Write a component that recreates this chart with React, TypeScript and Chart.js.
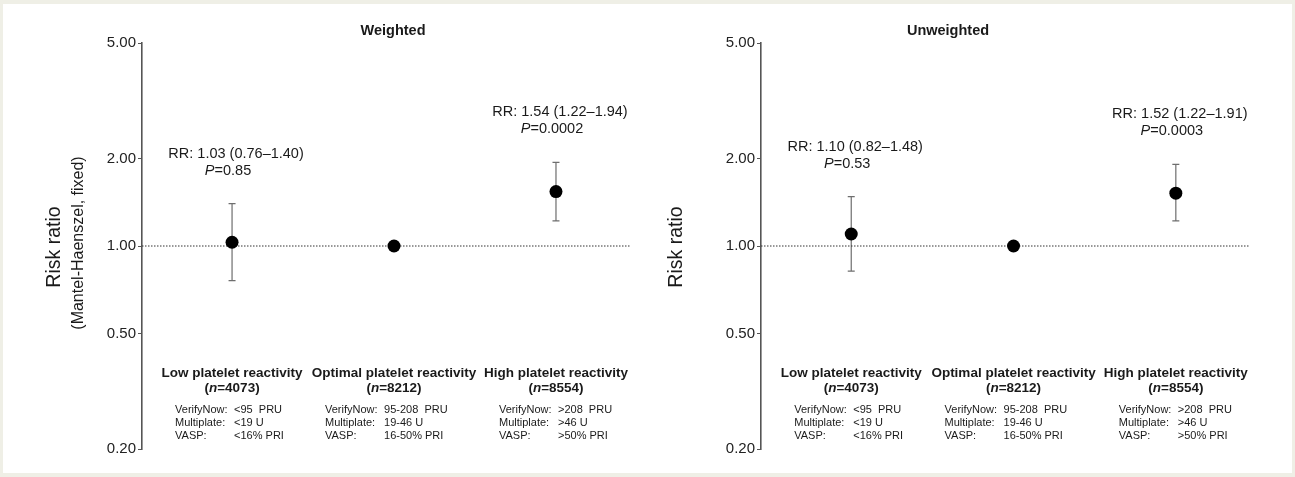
import React, { useEffect, useRef } from 'react';
import { Chart, registerables } from 'chart.js';

Chart.register(...registerables);

// ---------------- data ----------------
const categories = ['Low platelet reactivity', 'Optimal platelet reactivity', 'High platelet reactivity'];
const nValues = ['4073', '8212', '8554'];
const verifyNowValues = ['<95  PRU', '95-208  PRU', '>208  PRU'];
const multiplateValues = ['<19 U', '19-46 U', '>46 U'];
const vaspValues = ['<16% PRI', '16-50% PRI', '>50% PRI'];

const weightedRR = [1.03, 1.0, 1.54];
const weightedLo = [0.76, null, 1.22];
const weightedHi = [1.4, null, 1.94];
const weightedRRText = ['RR: 1.03 (0.76–1.40)', null, 'RR: 1.54 (1.22–1.94)'];
const weightedP = ['0.85', null, '0.0002'];

const unweightedRR = [1.1, 1.0, 1.52];
const unweightedLo = [0.82, null, 1.22];
const unweightedHi = [1.48, null, 1.91];
const unweightedRRText = ['RR: 1.10 (0.82–1.48)', null, 'RR: 1.52 (1.22–1.91)'];
const unweightedP = ['0.53', null, '0.0003'];

const yTicks = [0.2, 0.5, 1, 2, 5];
const referenceRR = 1;

// ---------------- styling ----------------
const FONT = '"Liberation Sans", Arial, Helvetica, sans-serif';
const TEXT = '#1a1a1a';
const X_MIN = 0.444;
const X_MAX = 3.457;
const BLOCK_OFFSETS = [-57, -69, -57]; // left edge of the assay text blocks relative to category centre

type Panel = {
  title: string;
  rr: number[];
  lo: (number | null)[];
  hi: (number | null)[];
  rrText: (string | null)[];
  pText: (string | null)[];
  yTitle: string;
  ySubtitle?: string;
  axisWidth: number;
  padRight: number;
  titleDx: number;
  yTitleDx: number;
};

function drawMixed(ctx: CanvasRenderingContext2D, parts: { text: string; font: string }[], cx: number, cy: number) {
  let total = 0;
  parts.forEach((p) => {
    ctx.font = p.font;
    total += ctx.measureText(p.text).width;
  });
  let x = cx - total / 2;
  ctx.textAlign = 'left';
  ctx.textBaseline = 'middle';
  parts.forEach((p) => {
    ctx.font = p.font;
    ctx.fillText(p.text, x, cy);
    x += ctx.measureText(p.text).width;
  });
}

function makeConfig(panel: Panel): any {
  const points = panel.rr.map((v, i) => ({ x: i + 1, y: v }));

  const errorBarPlugin = {
    id: 'errorBars',
    beforeDatasetsDraw(chart: any) {
      const { ctx, scales } = chart;
      const xs = scales.x;
      const ys = scales.y;
      ctx.save();
      ctx.strokeStyle = '#6e6e6e';
      ctx.lineWidth = 1.2;
      panel.rr.forEach((_, i) => {
        const lo = panel.lo[i];
        const hi = panel.hi[i];
        if (lo == null || hi == null) return;
        const px = xs.getPixelForValue(i + 1);
        const pLo = ys.getPixelForValue(lo);
        const pHi = ys.getPixelForValue(hi);
        ctx.beginPath();
        ctx.moveTo(px, pLo);
        ctx.lineTo(px, pHi);
        ctx.moveTo(px - 3.5, pLo);
        ctx.lineTo(px + 3.5, pLo);
        ctx.moveTo(px - 3.5, pHi);
        ctx.lineTo(px + 3.5, pHi);
        ctx.stroke();
      });
      ctx.restore();
    },
  };

  const textPlugin = {
    id: 'panelText',
    afterDraw(chart: any) {
      const { ctx, scales, chartArea } = chart;
      const xs = scales.x;
      const ys = scales.y;
      ctx.save();
      ctx.fillStyle = TEXT;

      // panel title
      ctx.font = `bold 14.5px ${FONT}`;
      ctx.textAlign = 'center';
      ctx.textBaseline = 'middle';
      ctx.fillText(panel.title, chartArea.left + panel.titleDx, chartArea.top - 12);

      // y-axis titles
      ctx.save();
      ctx.translate(chartArea.left - panel.yTitleDx, (chartArea.top + chartArea.bottom) / 2 + 1);
      ctx.rotate(-Math.PI / 2);
      ctx.font = `19.5px ${FONT}`;
      ctx.textAlign = 'center';
      ctx.textBaseline = 'middle';
      ctx.fillText(panel.yTitle, 0, 0);
      if (panel.ySubtitle) {
        ctx.font = `16px ${FONT}`;
        ctx.fillText(panel.ySubtitle, 4, 24);
      }
      ctx.restore();

      // RR annotations
      panel.rr.forEach((_, i) => {
        const t = panel.rrText[i];
        const hi = panel.hi[i];
        if (!t || hi == null) return;
        const px = xs.getPixelForValue(i + 1);
        const pHi = ys.getPixelForValue(hi);
        ctx.font = `14.5px ${FONT}`;
        ctx.textAlign = 'center';
        ctx.textBaseline = 'middle';
        ctx.fillText(t, px + 4, pHi - 50);
        const p = panel.pText[i];
        if (p) {
          drawMixed(
            ctx,
            [
              { text: 'P', font: `italic 14.5px ${FONT}` },
              { text: '=' + p, font: `14.5px ${FONT}` },
            ],
            px - 4,
            pHi - 33
          );
        }
      });

      // category labels
      categories.forEach((c, i) => {
        const px = xs.getPixelForValue(i + 1);
        const base = chartArea.bottom;
        ctx.fillStyle = TEXT;
        ctx.font = `bold 13.5px ${FONT}`;
        ctx.textAlign = 'center';
        ctx.textBaseline = 'middle';
        ctx.fillText(c, px, base - 76);
        drawMixed(
          ctx,
          [
            { text: '(', font: `bold 13.5px ${FONT}` },
            { text: 'n', font: `italic bold 13.5px ${FONT}` },
            { text: '=' + nValues[i] + ')', font: `bold 13.5px ${FONT}` },
          ],
          px,
          base - 61
        );
        const left = px + BLOCK_OFFSETS[i];
        const valueLeft = left + 59;
        ctx.font = `11px ${FONT}`;
        ctx.textAlign = 'left';
        ctx.textBaseline = 'middle';
        const rows: [string, string][] = [
          ['VerifyNow:', verifyNowValues[i]],
          ['Multiplate:', multiplateValues[i]],
          ['VASP:', vaspValues[i]],
        ];
        rows.forEach((r, k) => {
          const y = base - 39 + k * 13;
          ctx.fillText(r[0], left, y);
          ctx.fillText(r[1], valueLeft, y);
        });
      });
      ctx.restore();
    },
  };

  return {
    type: 'scatter',
    data: {
      datasets: [
        {
          label: 'RR',
          data: points,
          pointRadius: 6.5,
          pointHoverRadius: 6.5,
          backgroundColor: '#000',
          borderColor: '#000',
          borderWidth: 0,
          showLine: false,
        },
        {
          label: 'reference',
          type: 'line',
          data: [
            { x: X_MIN, y: referenceRR },
            { x: X_MAX, y: referenceRR },
          ],
          borderColor: '#333',
          borderWidth: 1,
          borderDash: [1.5, 1.5],
          pointRadius: 0,
          fill: false,
        },
      ],
    },
    options: {
      responsive: false,
      animation: false,
      devicePixelRatio: 1,
      layout: { padding: { left: 0, right: panel.padRight, top: 43, bottom: 28 } },
      plugins: { legend: { display: false }, tooltip: { enabled: false }, title: { display: false } },
      scales: {
        x: { type: 'linear', min: X_MIN, max: X_MAX, display: false },
        y: {
          type: 'logarithmic',
          min: yTicks[0],
          max: yTicks[yTicks.length - 1],
          afterBuildTicks: (scale: any) => {
            scale.ticks = yTicks.map((v) => ({ value: v }));
          },
          afterFit: (scale: any) => {
            scale.width = panel.axisWidth;
          },
          ticks: {
            autoSkip: false,
            padding: 2,
            color: '#222',
            font: { family: FONT, size: 15 },
            callback: (v: any) => Number(v).toFixed(2),
          },
          grid: {
            drawOnChartArea: false,
            drawTicks: true,
            tickLength: 4,
            tickColor: '#555',
            tickWidth: 1,
          },
          border: { display: true, color: '#555', width: 1.6 },
        },
      },
    },
    plugins: [errorBarPlugin, textPlugin],
  };
}

const weightedPanel: Panel = {
  title: 'Weighted',
  rr: weightedRR,
  lo: weightedLo,
  hi: weightedHi,
  rrText: weightedRRText,
  pText: weightedP,
  yTitle: 'Risk ratio',
  ySubtitle: '(Mantel-Haenszel, fixed)',
  axisWidth: 142,
  padRight: 17,
  titleDx: 251,
  yTitleDx: 87,
};

const unweightedPanel: Panel = {
  title: 'Unweighted',
  rr: unweightedRR,
  lo: unweightedLo,
  hi: unweightedHi,
  rrText: unweightedRRText,
  pText: unweightedP,
  yTitle: 'Risk ratio',
  axisWidth: 114,
  padRight: 45,
  titleDx: 187,
  yTitleDx: 84,
};

function ChartPanel({ panel, left, width }: { panel: Panel; left: number; width: number }) {
  const ref = useRef<HTMLCanvasElement | null>(null);
  useEffect(() => {
    if (!ref.current) return;
    const chart = new Chart(ref.current, makeConfig(panel));
    return () => chart.destroy();
  }, [panel]);
  return (
    <canvas
      ref={ref}
      width={width}
      height={477}
      style={{ position: 'absolute', left, top: 0, width, height: 477 }}
    />
  );
}

export default function App() {
  return (
    <div
      style={{
        position: 'fixed',
        left: 0,
        top: 0,
        width: 1295,
        height: 477,
        background: '#efefe6',
        overflow: 'hidden',
      }}
    >
      <div style={{ position: 'absolute', left: 3, top: 4, right: 3, bottom: 4, background: '#ffffff' }} />
      <ChartPanel panel={weightedPanel} left={0} width={647} />
      <ChartPanel panel={unweightedPanel} left={647} width={648} />
    </div>
  );
}
